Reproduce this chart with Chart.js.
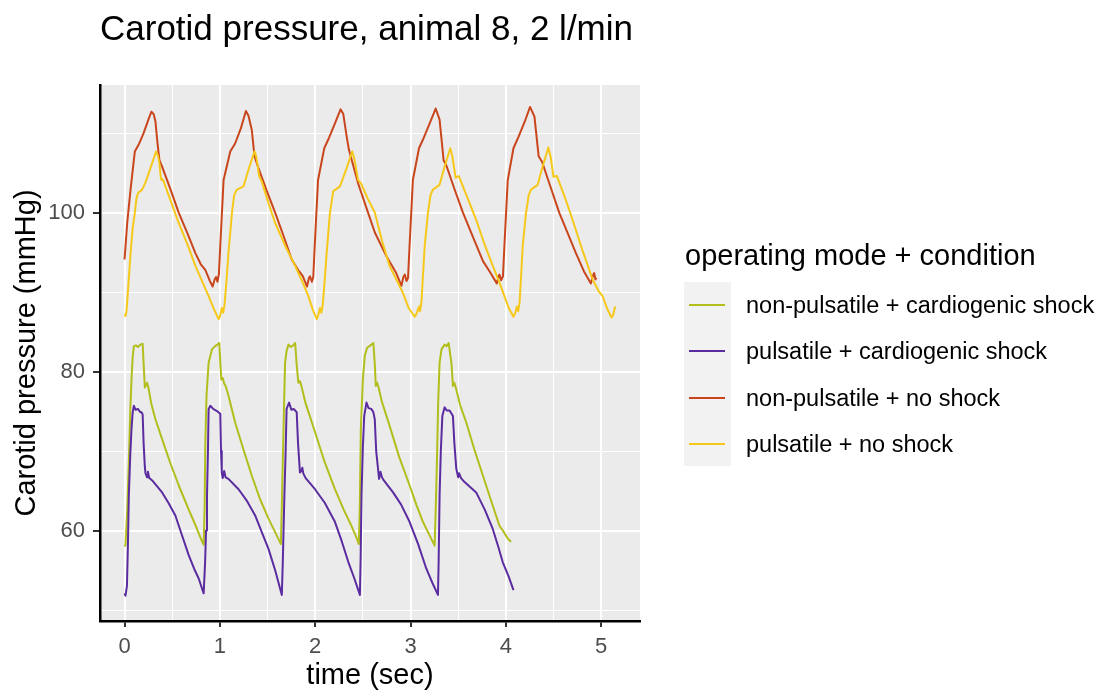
<!DOCTYPE html>
<html>
<head>
<meta charset="utf-8">
<script src="https://cdn.jsdelivr.net/npm/chart.js@4.4.1/dist/chart.umd.min.js"></script>
<style>
  body { margin: 0; background: #fff; font-family: "Liberation Sans", Arial, sans-serif; }
  #wrap { position: relative; width: 1100px; height: 693px; }
  #legendTitle { position: absolute; left: 685px; top: 238px; font-size: 29px; line-height: 34px; color: #000; white-space: nowrap; }
  #legend { position: absolute; left: 684px; top: 282px; width: 416px; height: 184px; }
  #legend .keybg { position: absolute; left: 0; top: 0; width: 47px; height: 184px; background: #f2f2f2; }
  #legend .item { position: absolute; left: 0; height: 46px; width: 416px; }
  #legend .key { position: absolute; left: 5px; top: 22px; width: 36px; height: 2px; }
  #legend .lab { position: absolute; left: 62px; top: 0; line-height: 46px; font-size: 23.5px; color: #000; white-space: nowrap; }
</style>
</head>
<body>
<div id="wrap">
  <canvas id="pressureChart" width="1100" height="693"></canvas>
  <div id="legendTitle">operating mode + condition</div>
  <div id="legend"><div class="keybg"></div></div>
</div>
<script>
var fontFamily = '"Liberation Sans", Arial, sans-serif';

// tick positions
var xGridTicks = [0, 0.5, 1, 1.5, 2, 2.5, 3, 3.5, 4, 4.5, 5];
var xLabelTicks = [0, 1, 2, 3, 4, 5];
var yGridTicks = [50, 60, 70, 80, 90, 100, 110];
var yLabelTicks = [60, 80, 100];

// non-pulsatile + cardiogenic shock
var npShockTime = [0, 0.01, 0.03, 0.045, 0.06, 0.073, 0.085, 0.098, 0.12, 0.14, 0.167, 0.19, 0.2, 0.213, 0.225, 0.237, 0.25, 0.28, 0.324, 0.394, 0.48, 0.568, 0.66, 0.743, 0.8, 0.83,
    0.84, 0.847, 0.86, 0.882, 0.917, 0.95, 0.975, 0.994, 1.005, 1.015, 1.03, 1.045, 1.06, 1.09, 1.16, 1.25, 1.335, 1.42, 1.51, 1.58, 1.64,
    1.65, 1.66, 1.672, 1.684, 1.7, 1.72, 1.745, 1.77, 1.79, 1.805, 1.823, 1.84, 1.855, 1.9, 1.998, 2.1, 2.207, 2.3, 2.38, 2.43, 2.458,
    2.468, 2.479, 2.5, 2.52, 2.545, 2.59, 2.61, 2.625, 2.636, 2.65, 2.665, 2.7, 2.78, 2.88, 2.99, 3.06, 3.13, 3.2, 3.253,
    3.265, 3.277, 3.29, 3.305, 3.325, 3.358, 3.38, 3.4, 3.43, 3.445, 3.46, 3.475, 3.52, 3.585, 3.67, 3.76, 3.85, 3.933, 3.98, 4.02, 4.055];
var npShockPressure = [58, 58.2, 63, 68.6, 75, 79, 81.8, 83.2, 83.3, 83.1, 83.4, 83.5, 81, 78, 78.3, 78.6, 78, 76, 74, 71.5, 68.5, 65.7, 63, 60.7, 59, 58.2,
    63, 70.7, 77, 81.1, 82.8, 83.2, 83.4, 83.6, 81, 79, 79.2, 78.5, 78.2, 77, 73.6, 70.1, 66.9, 64, 61.5, 59.8, 58.3,
    63, 68.6, 75, 81.1, 82.6, 83.4, 83.1, 83.3, 83.6, 81, 78.6, 78.8, 78.2, 76, 72.4, 68.6, 65.2, 62.6, 60.6, 59.2, 58.3,
    63, 72.8, 79, 82, 83, 83.4, 83.6, 81, 78.2, 78.6, 78, 76.2, 73.2, 69.3, 65.7, 63.3, 61.1, 59.4, 58.1,
    63, 68.6, 76, 81.1, 82.8, 83.4, 83.2, 83.6, 81, 78.2, 78.6, 78, 75.8, 73.6, 70.2, 66.9, 63.6, 60.6, 59.8, 59, 58.6];

// pulsatile + cardiogenic shock
var pShockTime = [0, 0.01, 0.025, 0.035, 0.045, 0.06, 0.073, 0.085, 0.098, 0.115, 0.14, 0.165, 0.178, 0.19, 0.2, 0.213, 0.22, 0.237, 0.245, 0.26, 0.29, 0.394, 0.46, 0.533, 0.6, 0.673, 0.73, 0.777, 0.81, 0.83,
    0.845, 0.855, 0.865, 0.875, 0.882, 0.9, 0.93, 0.96, 0.985, 1.004, 1.012, 1.02, 1.03, 1.045, 1.06, 1.09, 1.196, 1.28, 1.37, 1.45, 1.51, 1.58, 1.65,
    1.66, 1.668, 1.677, 1.69, 1.7, 1.726, 1.75, 1.775, 1.806, 1.82, 1.84, 1.855, 1.865, 1.875, 1.9, 1.998, 2.1, 2.207, 2.28, 2.346, 2.41, 2.469,
    2.476, 2.486, 2.5, 2.514, 2.538, 2.56, 2.59, 2.61, 2.625, 2.64, 2.67, 2.685, 2.7, 2.72, 2.817, 2.9, 2.99, 3.08, 3.166, 3.23, 3.288,
    3.295, 3.305, 3.318, 3.334, 3.358, 3.38, 3.41, 3.445, 3.46, 3.48, 3.5, 3.51, 3.53, 3.567, 3.689, 3.78, 3.863, 3.92, 3.968, 4.03, 4.08];
var pShockPressure = [52.1, 51.8, 53, 58, 64.4, 69.5, 72.8, 74.8, 75.7, 75.2, 75.3, 74.9, 74.9, 74.6, 71, 68, 67.2, 66.7, 67.4, 66.6, 66.3, 64.8, 63.5, 61.9, 59.5, 56.9, 55.2, 54, 52.8, 52.1,
    56, 60, 64.4, 70, 75.3, 75.7, 75.3, 75.1, 74.9, 74.7, 70, 67.3, 66.6, 67.5, 66.7, 66.5, 65.2, 63.8, 61.9, 59.5, 57.7, 55, 51.9,
    56, 60, 64.4, 70, 75.3, 76.1, 75.2, 75.3, 74.9, 71, 67.3, 67.5, 67.9, 67.2, 66.6, 65.2, 63.5, 61.1, 58.6, 56.1, 54, 51.9,
    56, 64.4, 70.5, 74.4, 76.1, 75.4, 75.3, 74.9, 74, 70, 66.5, 67.4, 66.7, 66.3, 64.8, 63.3, 61.1, 58.3, 55.2, 53.4, 51.9,
    56, 64.4, 70, 74.4, 75.5, 75.1, 75.1, 74.4, 71, 67.8, 66.7, 67.2, 66.6, 66.1, 64.8, 62.6, 60.2, 58, 56, 54.2, 52.5];

// non-pulsatile + no shock
var npNoShockTime = [0, 0.028, 0.063, 0.108, 0.15, 0.2, 0.25, 0.282, 0.305, 0.324, 0.345, 0.366, 0.394, 0.48, 0.568, 0.66, 0.743, 0.8, 0.847, 0.895, 0.924, 0.945, 0.96, 0.975, 0.99,
    1.004, 1.039, 1.109, 1.16, 1.22, 1.273, 1.3, 1.335, 1.363, 1.405, 1.49, 1.58, 1.67, 1.754, 1.82, 1.87, 1.914, 1.935, 1.946, 1.965, 1.98,
    1.995, 2.03, 2.095, 2.137, 2.2, 2.266, 2.295, 2.33, 2.354, 2.45, 2.54, 2.626, 2.748, 2.85, 2.905, 2.925, 2.94, 2.958, 2.974,
    2.99, 3.025, 3.089, 3.131, 3.2, 3.264, 3.305, 3.347, 3.38, 3.46, 3.55, 3.66, 3.76, 3.84, 3.905, 3.925, 3.933, 3.95, 3.97,
    3.985, 4.02, 4.08, 4.135, 4.2, 4.254, 4.3, 4.344, 4.38, 4.47, 4.56, 4.65, 4.735, 4.82, 4.892, 4.915, 4.927, 4.94, 4.95];
var npNoShockPressure = [94.1, 98.7, 102.9, 107.7, 108.6, 110, 111.7, 112.7, 112.4, 111.5, 108.8, 106.6, 105.8, 103, 100, 97.4, 94.9, 93.5, 92.8, 91.4, 90.7, 91.6, 91.9, 91.3, 92.3,
    95.8, 104.1, 107.7, 108.7, 110.6, 112.8, 112.2, 110.4, 107.1, 105.6, 102.8, 100, 97, 94.1, 92.8, 92, 90.7, 91.8, 92, 91.3, 91.9,
    95.8, 104.1, 108.1, 109.2, 111, 113, 112.4, 109.6, 107.9, 103.7, 100.5, 97.5, 94.5, 92.4, 90.8, 91.9, 92.2, 91.4, 91.8,
    95.8, 104.1, 108.1, 109.2, 111.2, 113.1, 111.7, 106.6, 105.8, 103, 100, 96.8, 93.9, 92.4, 91.1, 92, 92.2, 91.5, 92,
    95.8, 104.1, 108.1, 109.6, 111.5, 113.3, 112.1, 107.1, 106.4, 103.2, 100, 97.4, 94.9, 92.6, 91.1, 92.1, 92.4, 91.6, 91.8];

// pulsatile + no shock
var pNoShockTime = [0, 0.01, 0.02, 0.035, 0.063, 0.085, 0.108, 0.125, 0.143, 0.185, 0.22, 0.255, 0.3, 0.331, 0.35, 0.366, 0.38, 0.387, 0.4, 0.411, 0.49, 0.568, 0.66, 0.743, 0.82, 0.882, 0.94,
    0.987, 1.0, 1.02, 1.035, 1.05, 1.07, 1.09, 1.127, 1.15, 1.179, 1.248, 1.3, 1.363, 1.375, 1.388, 1.412, 1.44, 1.51, 1.58, 1.69, 1.79, 1.87, 1.928, 1.975,
    2.016, 2.03, 2.05, 2.065, 2.08, 2.1, 2.12, 2.155, 2.19, 2.26, 2.33, 2.388, 2.41, 2.45, 2.48, 2.55, 2.626, 2.7, 2.78, 2.86, 2.92, 2.98,
    3.044, 3.06, 3.09, 3.1, 3.115, 3.13, 3.149, 3.183, 3.21, 3.235, 3.305, 3.358, 3.417, 3.44, 3.473, 3.507, 3.6, 3.689, 3.78, 3.863, 3.93, 3.985, 4.03,
    4.08, 4.1, 4.115, 4.13, 4.145, 4.16, 4.177, 4.212, 4.24, 4.264, 4.334, 4.386, 4.446, 4.47, 4.5, 4.536, 4.62, 4.7, 4.8, 4.91, 4.97, 5.015, 5.06,
    5.108, 5.125, 5.147];
var pNoShockPressure = [87.2, 87, 87.6, 90, 94.9, 98, 100, 101.8, 102.5, 102.9, 103.8, 105, 106.6, 107.7, 107.2, 106.2, 104.5, 104.1, 104.2, 103.9, 101.3, 98.7, 96, 93.3, 91.2, 89.5, 87.8,
    86.6, 86.9, 88, 87.4, 88.5, 91.5, 94.9, 100, 102.2, 102.9, 103.3, 105.4, 107.7, 107.4, 106.6, 104.6, 103.9, 101.2, 98.7, 95.7, 93.3, 91.2, 89.5, 87.8,
    86.6, 87, 88, 87.4, 88.5, 91.5, 94.9, 100, 102.7, 103.3, 105.6, 107.7, 106.8, 104.1, 103.7, 101.8, 100, 96.5, 93.3, 91.4, 89.9, 88,
    86.9, 87.2, 88.2, 87.6, 88.8, 92, 95.8, 100, 102.2, 102.9, 103.5, 105.8, 108.1, 107, 104.4, 104.6, 101.8, 99.1, 95.9, 93.3, 91.3, 89.5, 88,
    86.9, 87.4, 88.2, 87.6, 88.8, 92, 95.8, 100, 102.2, 102.9, 103.5, 105.8, 108.2, 107, 104.5, 104.6, 101.9, 99.1, 95.4, 91.6, 90.2, 89.5, 88,
    86.8, 87.1, 88.2];

function toPoints(times, values) {
    return times.map(function (t, i) { return { x: t, y: values[i] }; });
}

function isMajor(ctx, labels) {
    return ctx.tick && labels.indexOf(ctx.tick.value) >= 0;
}

// grey ggplot-like panel
var panelBackground = {
    id: 'panelBackground',
    beforeDraw: function (chart) {
        var a = chart.chartArea;
        var ctx = chart.ctx;
        ctx.save();
        ctx.fillStyle = '#ebebeb';
        ctx.fillRect(a.left, a.top, a.right - a.left, a.bottom - a.top);
        ctx.restore();
    }
};

var lineOpts = { pointRadius: 0, borderWidth: 2, tension: 0, fill: false, borderJoinStyle: 'round' };

var chart = new Chart(document.getElementById('pressureChart').getContext('2d'), {
    type: 'line',
    data: {
        datasets: [
            Object.assign({ label: 'non-pulsatile + cardiogenic shock', data: toPoints(npShockTime, npShockPressure), borderColor: '#b2be1c', order: 4 }, lineOpts),
            Object.assign({ label: 'pulsatile + cardiogenic shock', data: toPoints(pShockTime, pShockPressure), borderColor: '#5b2ca0', order: 3 }, lineOpts),
            Object.assign({ label: 'non-pulsatile + no shock', data: toPoints(npNoShockTime, npNoShockPressure), borderColor: '#c9461d', order: 2 }, lineOpts),
            Object.assign({ label: 'pulsatile + no shock', data: toPoints(pNoShockTime, pNoShockPressure), borderColor: '#f6c81a', order: 1 }, lineOpts)
        ]
    },
    options: {
        responsive: false,
        animation: false,
        layout: { padding: { left: 0, right: 460, top: 0, bottom: 0 } },
        plugins: {
            legend: { display: false },
            tooltip: { enabled: false },
            title: {
                display: true,
                text: 'Carotid pressure, animal 8, 2 l/min',
                align: 'start',
                fullSize: false,
                color: '#000',
                font: { family: fontFamily, size: 35, weight: 'normal' },
                padding: { top: 9, bottom: 34 }
            }
        },
        scales: {
            x: {
                type: 'linear',
                min: -0.2575,
                max: 5.4075,
                afterBuildTicks: function (s) { s.ticks = xGridTicks.map(function (v) { return { value: v }; }); },
                afterFit: function (s) { s.height = 72; },
                ticks: {
                    autoSkip: false,
                    maxRotation: 0,
                    padding: 7,
                    color: '#4d4d4d',
                    font: { family: fontFamily, size: 22 },
                    callback: function (v) { return xLabelTicks.indexOf(v) >= 0 ? String(v) : ''; }
                },
                grid: {
                    color: '#ffffff',
                    lineWidth: function (ctx) { return isMajor(ctx, xLabelTicks) ? 2 : 1; },
                    tickLength: 6,
                    tickWidth: 2,
                    tickColor: function (ctx) { return isMajor(ctx, xLabelTicks) ? '#333333' : 'rgba(0,0,0,0)'; }
                },
                border: { display: true, color: '#000', width: 2.5 },
                title: {
                    display: true,
                    text: 'time (sec)',
                    color: '#000',
                    font: { family: fontFamily, size: 29 },
                    padding: { top: 0, bottom: 0 }
                }
            },
            y: {
                min: 48.62,
                max: 116.06,
                afterBuildTicks: function (s) { s.ticks = yGridTicks.map(function (v) { return { value: v }; }); },
                afterFit: function (s) { s.width = 100; },
                ticks: {
                    autoSkip: false,
                    padding: 8,
                    color: '#4d4d4d',
                    font: { family: fontFamily, size: 22 },
                    callback: function (v) { return yLabelTicks.indexOf(v) >= 0 ? String(v) : ''; }
                },
                grid: {
                    color: '#ffffff',
                    lineWidth: function (ctx) { return isMajor(ctx, yLabelTicks) ? 2 : 1; },
                    tickLength: 7,
                    tickWidth: 2,
                    tickColor: function (ctx) { return isMajor(ctx, yLabelTicks) ? '#333333' : 'rgba(0,0,0,0)'; }
                },
                border: { display: true, color: '#000', width: 2.5 },
                title: {
                    display: true,
                    text: 'Carotid pressure (mmHg)',
                    color: '#000',
                    font: { family: fontFamily, size: 29 },
                    padding: { top: 10, bottom: 0 }
                }
            }
        }
    },
    plugins: [panelBackground]
});

// legend built from the datasets
var legendBox = document.getElementById('legend');
chart.data.datasets.forEach(function (ds, i) {
    var row = document.createElement('div');
    row.className = 'item';
    row.style.top = (i * 46.3) + 'px';
    row.innerHTML = '<span class="key" style="background:' + ds.borderColor + '"></span>' +
        '<span class="lab">' + ds.label + '</span>';
    legendBox.appendChild(row);
});
</script>
</body>
</html>
